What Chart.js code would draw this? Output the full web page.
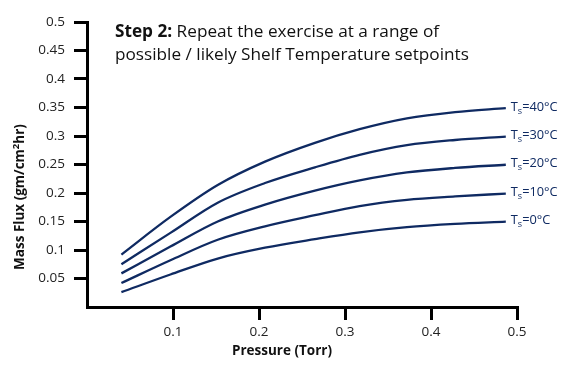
<!DOCTYPE html>
<html>
<head>
<meta charset="utf-8">
<script src="https://cdn.jsdelivr.net/npm/chart.js@4.4.1/dist/chart.umd.min.js"></script>
<style>
  html, body { margin: 0; padding: 0; background: #fff; }
  #wrap { width: 567px; height: 370px; position: relative; }
</style>
</head>
<body>
<div id="wrap"><canvas id="c" width="567" height="370"></canvas></div>
<script>
// ---- Data ----
const pressure = [0.04, 0.097, 0.152, 0.207, 0.265, 0.317, 0.372, 0.428, 0.487];
const flux40 = [0.092, 0.158, 0.214, 0.255, 0.288, 0.312, 0.331, 0.342, 0.349];
const flux30 = [0.075, 0.130, 0.183, 0.2175, 0.245, 0.267, 0.284, 0.293, 0.299];
const flux20 = [0.059, 0.106, 0.150, 0.1795, 0.204, 0.222, 0.236, 0.244, 0.2496];
const flux10 = [0.042, 0.082, 0.118, 0.1415, 0.161, 0.177, 0.188, 0.194, 0.199];
const flux0  = [0.026, 0.057, 0.085, 0.104, 0.119, 0.131, 0.140, 0.1457, 0.1497];
const shelfTemps = ['40', '30', '20', '10', '0'];
const xTickValues = [0.1, 0.2, 0.3, 0.4, 0.5];
const yTickValues = [0.05, 0.1, 0.15, 0.2, 0.25, 0.3, 0.35, 0.4, 0.45, 0.5];
const titleBold = 'Step 2:';
const titleLine1 = ' Repeat the exercise at a range of';
const titleLine2 = 'possible / likely Shelf Temperature setpoints';
const xTitle = 'Pressure (Torr)';
const yTitleParts = ['Mass Flux (gm/cm', '2', 'hr)'];

const LINE = '#0f2a62';
const FONT = '"Open Sans", Lato, sans-serif';

const series = [flux40, flux30, flux20, flux10, flux0];
const datasets = series.map((vals, i) => ({
  label: 'Ts=' + shelfTemps[i] + '°C',
  data: pressure.map((p, j) => ({ x: p, y: vals[j] })),
  borderColor: LINE,
  borderWidth: 2.3,
  pointRadius: 0,
  fill: false,
  cubicInterpolationMode: 'monotone'
}));

const annot = {
  id: 'annot',
  afterDraw(chart) {
    const ctx = chart.ctx;
    ctx.save();
    // Title
    ctx.fillStyle = '#111';
    ctx.textBaseline = 'alphabetic';
    ctx.textAlign = 'left';
    ctx.font = 'bold 17.2px ' + FONT;
    ctx.fillText(titleBold, 115, 37);
    const wb = ctx.measureText(titleBold).width;
    ctx.font = '17.2px ' + FONT;
    ctx.fillText(titleLine1, 115 + wb, 37);
    ctx.fillText(titleLine2, 115, 60);

    // Axis titles
    ctx.font = 'bold 13.5px ' + FONT;
    ctx.textAlign = 'center';
    ctx.textBaseline = 'middle';
    ctx.fillText(xTitle, 282, 351);
    ctx.save();
    ctx.translate(20, 197);
    ctx.rotate(-Math.PI / 2);
    const parts = yTitleParts;
    ctx.font = 'bold 13.5px ' + FONT;
    const w0 = ctx.measureText(parts[0]).width;
    const w2 = ctx.measureText(parts[2]).width;
    ctx.font = 'bold 9.5px ' + FONT;
    const w1 = ctx.measureText(parts[1]).width;
    let x = -(w0 + w1 + w2) / 2;
    ctx.textAlign = 'left';
    ctx.font = 'bold 13.5px ' + FONT;
    ctx.fillText(parts[0], x, 0); x += w0;
    ctx.font = 'bold 9.5px ' + FONT;
    ctx.fillText(parts[1], x, -4); x += w1;
    ctx.font = 'bold 13.5px ' + FONT;
    ctx.fillText(parts[2], x, 0);
    ctx.restore();

    // End labels
    ctx.fillStyle = LINE;
    ctx.textBaseline = 'middle';
    ctx.textAlign = 'left';
    chart.data.datasets.forEach((ds, i) => {
      const meta = chart.getDatasetMeta(i);
      const last = meta.data[meta.data.length - 1];
      let lx = last.x + 5, ly = last.y - 1;
      ctx.font = '12.8px ' + FONT;
      ctx.fillText('T', lx, ly);
      lx += ctx.measureText('T').width;
      ctx.font = '9px ' + FONT;
      ctx.fillText('s', lx, ly + 4);
      lx += ctx.measureText('s').width;
      ctx.font = '12.8px ' + FONT;
      ctx.fillText('=' + shelfTemps[i] + '°C', lx, ly);
    });
    ctx.restore();
  }
};

new Chart(document.getElementById('c'), {
  type: 'line',
  data: { datasets },
  options: {
    responsive: false,
    animation: false,
    devicePixelRatio: 1,
    layout: { padding: { top: 22, right: 50, left: 0, bottom: 0 } },
    plugins: { legend: { display: false }, tooltip: { enabled: false } },
    scales: {
      x: {
        type: 'linear',
        min: 0, max: 0.5,
        afterFit(s) { s.height = 63; },
        afterBuildTicks(s) { s.ticks = xTickValues.map(v => ({ value: v })); },
        ticks: {
          color: '#222',
          font: { family: FONT, size: 13.5 },
          padding: 4,
          maxRotation: 0,
          callback: v => String(Math.round(v * 100) / 100)
        },
        grid: { drawOnChartArea: false, drawTicks: true, tickLength: 13, color: '#000', lineWidth: 3 },
        border: { display: true, color: '#000', width: 3 }
      },
      y: {
        type: 'linear',
        min: 0, max: 0.5,
        afterFit(s) { s.width = 87; },
        afterBuildTicks(s) { s.ticks = yTickValues.map(v => ({ value: v })); },
        ticks: {
          color: '#222',
          font: { family: FONT, size: 13.5 },
          padding: 9,
          callback: v => String(Math.round(v * 100) / 100)
        },
        grid: { drawOnChartArea: false, drawTicks: true, tickLength: 13, color: '#000', lineWidth: 3 },
        border: { display: true, color: '#000', width: 3 }
      }
    }
  },
  plugins: [annot]
});
</script>
</body>
</html>
